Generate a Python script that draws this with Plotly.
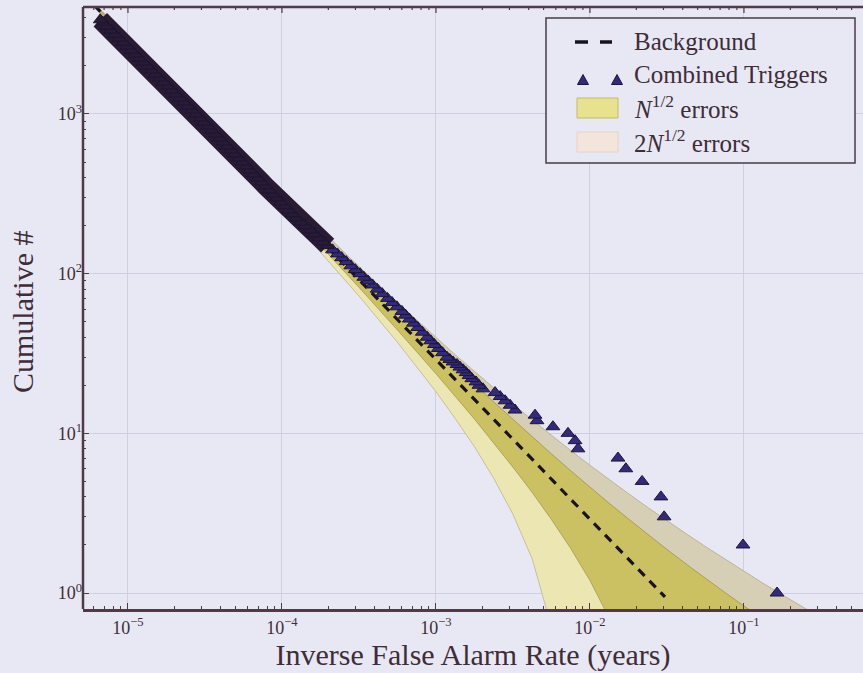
import plotly.graph_objects as go

# ---------------- data ----------------
# Combined triggers: individually resolved points (cumulative count, IFAR in years)
trig_count_low = list(range(1, 30))
trig_ifar_low = [0.164, 0.0986, 0.0303, 0.0289, 0.0218, 0.0171, 0.0152, 0.00836, 0.0080,
                 0.0072, 0.00575, 0.00453, 0.00440, 0.00326, 0.00303, 0.00281, 0.00261,
                 0.00242, 0.00202, 0.00190, 0.00182, 0.00171, 0.00164, 0.00157, 0.00150,
                 0.00143, 0.00137, 0.00129, 0.00123]

# Combined triggers: dense part of the curve (sampled along the thick band)
trig_count_high = [30, 32, 34, 36, 38, 40, 43, 46, 49, 52, 55, 58, 62, 66, 70, 75, 80, 85, 90, 95,
                   100, 106, 112, 119, 126, 133, 141, 150, 158, 168, 178, 188, 200, 211, 224,
                   237, 251, 266, 282, 299, 316, 335, 355, 376, 398, 422, 447, 473, 501, 531,
                   562, 596, 631, 668, 708, 750, 794, 841, 891, 944, 1000, 1059, 1122, 1189,
                   1259, 1334, 1413, 1496, 1585, 1679, 1778, 1884, 1995, 2113, 2239, 2371,
                   2512, 2661, 2818, 2985, 3162, 3350, 3548, 3758, 3890]
trig_ifar_high = [1.178e-3, 1.102e-3, 1.036e-3, 9.77e-4, 9.25e-4, 8.77e-4, 8.15e-4, 7.61e-4,
                  7.14e-4, 6.71e-4, 6.34e-4, 6.01e-4, 5.57e-4, 5.18e-4, 4.84e-4, 4.47e-4,
                  4.15e-4, 3.87e-4, 3.62e-4, 3.40e-4, 3.21e-4, 2.99e-4, 2.80e-4, 2.61e-4,
                  2.44e-4, 2.29e-4, 2.13e-4, 1.98e-4, 1.86e-4, 1.73e-4, 1.62e-4, 1.52e-4,
                  1.41e-4, 1.32e-4, 1.233e-4, 1.166e-4, 1.101e-4, 1.039e-4, 9.80e-5, 9.24e-5,
                  8.75e-5, 8.25e-5, 7.79e-5, 7.36e-5, 6.95e-5, 6.56e-5, 6.19e-5, 5.85e-5,
                  5.53e-5, 5.22e-5, 4.93e-5, 4.65e-5, 4.39e-5, 4.15e-5, 3.91e-5, 3.69e-5,
                  3.49e-5, 3.30e-5, 3.11e-5, 2.94e-5, 2.76e-5, 2.60e-5, 2.45e-5, 2.30e-5,
                  2.17e-5, 2.04e-5, 1.92e-5, 1.81e-5, 1.70e-5, 1.60e-5, 1.51e-5, 1.42e-5,
                  1.34e-5, 1.26e-5, 1.18e-5, 1.11e-5, 1.047e-5, 9.86e-6, 9.28e-6, 8.73e-6,
                  8.21e-6, 7.73e-6, 7.27e-6, 6.85e-6, 6.61e-6]

# Background expectation (straight line in log-log)
bg_ifar = [6.03e-6, 0.0307]
bg_count = [4810, 0.945]

# Error bands
band_ifar = [5.01e-6, 1.0e-5, 3.16e-5, 1.0e-4, 3.16e-4, 5.62e-4, 1.0e-3, 1.33e-3, 1.78e-3,
             2.37e-3, 3.16e-3, 4.22e-3, 5.62e-3, 7.50e-3, 1.0e-2, 1.33e-2, 1.78e-2, 2.37e-2,
             3.16e-2, 4.22e-2, 5.62e-2, 7.50e-2, 0.1, 0.133, 0.178, 0.237, 0.316, 0.422, 0.59]
upper_1sig = [5862, 2954, 947.4, 307.0, 101.3, 58.75, 34.39, 26.41, 20.35, 15.73, 12.20, 9.499,
              7.428, 5.833, 4.603, 3.650, 2.908, 2.329, 1.875, 1.517, 1.234, 1.009, 0.8285,
              0.6839, 0.5670, 0.4720, 0.3945, 0.3310, 0.2700]
upper_2sig = [5938, 3008, 977.7, 324.1, 110.9, 65.93, 39.77, 31.08, 24.39, 19.22, 15.23, 12.12,
              9.699, 7.799, 6.306, 5.125, 4.185, 3.435, 2.833, 2.346, 1.952, 1.631, 1.367,
              1.150, 0.9709, 0.8217, 0.6973, 0.5932, 0.4930]
lower_1sig_ifar = [5.01e-6, 1.0e-5, 3.16e-5, 1.0e-4, 3.16e-4, 5.62e-4, 1.0e-3, 1.33e-3, 1.78e-3,
                   2.37e-3, 3.16e-3, 4.22e-3, 5.62e-3, 7.50e-3, 1.0e-2, 1.33e-2, 1.78e-2,
                   2.37e-2, 2.754e-2]
lower_1sig = [5710, 2846, 886.8, 273.0, 82.13, 44.39, 23.62, 17.09, 12.27, 8.733, 6.143, 4.255,
              2.886, 1.901, 1.197, 0.700, 0.354, 0.117, 0.027]
lower_2sig_ifar = [5.01e-6, 1.0e-5, 3.16e-5, 1.0e-4, 3.16e-4, 5.62e-4, 1.0e-3, 1.33e-3, 1.78e-3,
                   2.37e-3, 3.16e-3, 4.22e-3, 5.62e-3, 6.31e-3, 6.918e-3]
lower_2sig = [5634, 2792, 856.5, 255.9, 72.56, 37.21, 18.23, 12.42, 8.232, 5.236, 3.115, 1.633,
              0.615, 0.308, 0.097]

x_tick_vals = [1e-5, 1e-4, 1e-3, 1e-2, 1e-1]
x_tick_text = ["10<sup>\u22125</sup>", "10<sup>\u22124</sup>", "10<sup>\u22123</sup>",
               "10<sup>\u22122</sup>", "10<sup>\u22121</sup>"]
y_tick_vals = [1, 10, 100, 1000]
y_tick_text = ["10<sup>0</sup>", "10<sup>1</sup>", "10<sup>2</sup>", "10<sup>3</sup>"]

legend_labels = ["Background", "Combined Triggers", "<i>N</i><sup>1/2</sup> errors",
                 "2<i>N</i><sup>1/2</sup> errors"]

# ---------------- styling ----------------
W, H = 863, 673
ML, MR, MT, MB = 83, 0, 7, 64
PW, PH = W - ML - MR, H - MT - MB

BG = "rgb(232,232,245)"
AX = "rgb(80,58,72)"
TXT = "rgb(62,45,55)"
GRID = "rgb(207,207,226)"
FONT = "Liberation Serif"
DENSE_FROM = 150          # counts above this form a solid dark band
TRI_COLOR = "rgb(50,42,125)"
TRI_EDGE = "rgb(30,20,55)"
INNER_SWATCH = "rgb(232,226,142)"
OUTER_SWATCH = "rgb(243,229,220)"


def px(xp):   # pixel -> paper x
    return (xp - ML) / PW


def py(yp):   # pixel -> paper y
    return (H - MB - yp) / PH


fig = go.Figure()

# outer (2 sigma) band - whole region
fig.add_trace(go.Scatter(
    x=band_ifar + lower_2sig_ifar[::-1], y=upper_2sig + lower_2sig[::-1],
    fill="toself", fillcolor="rgb(236,231,178)", mode="lines",
    line=dict(color="rgba(170,160,100,0.7)", width=0.8), showlegend=False, hoverinfo="skip"))
# upper part of outer band (greyish texture in reference)
fig.add_trace(go.Scatter(
    x=band_ifar + band_ifar[::-1], y=upper_2sig + upper_1sig[::-1],
    fill="toself", fillcolor="rgb(214,207,182)", mode="lines",
    line=dict(color="rgba(160,150,120,0.6)", width=0.6), showlegend=False, hoverinfo="skip"))
# inner (1 sigma) band
fig.add_trace(go.Scatter(
    x=band_ifar + lower_1sig_ifar[::-1], y=upper_1sig + lower_1sig[::-1],
    fill="toself", fillcolor="rgb(203,193,98)", mode="lines",
    line=dict(color="rgba(150,140,70,0.8)", width=0.8), showlegend=False, hoverinfo="skip"))

# background
fig.add_trace(go.Scatter(
    x=bg_ifar, y=bg_count, mode="lines", name="Background", showlegend=False,
    line=dict(color="rgb(25,20,28)", width=3.2, dash="9px,7px")))

# dense part of the triggers: overlapping markers form a solid band
dense_x = [x for x, n in zip(trig_ifar_high, trig_count_high) if n >= DENSE_FROM]
dense_y = [n for n in trig_count_high if n >= DENSE_FROM]
fig.add_trace(go.Scatter(
    x=dense_x, y=dense_y, mode="lines", showlegend=False, hoverinfo="skip",
    line=dict(color="rgb(40,27,50)", width=19)))

all_x = trig_ifar_low + trig_ifar_high
all_y = trig_count_low + trig_count_high
marker_colors = ["rgb(40,27,52)" if n >= DENSE_FROM else TRI_COLOR for n in all_y]

fig.add_trace(go.Scatter(
    x=all_x, y=all_y, mode="markers", name="Combined Triggers", showlegend=False,
    marker=dict(symbol="triangle-up", size=12, color=marker_colors,
                line=dict(color=TRI_EDGE, width=1))))

minor_x = [m * 10 ** e for e in range(-6, 0) for m in range(2, 10)]
minor_y = [m * 10 ** e for e in range(0, 4) for m in range(2, 10)]

# ---------------- frame lines and hand-made legend (matplotlib look) ----------------
shapes = []
annotations = []
# left spine, top spine
shapes.append(dict(type="line", xref="paper", yref="paper", x0=0, x1=0, y0=0, y1=1,
                   line=dict(color=AX, width=2.5), layer="above"))
shapes.append(dict(type="line", xref="paper", yref="paper", x0=0, x1=1, y0=1, y1=1,
                   line=dict(color=AX, width=2.5), layer="above"))
# top minor/major tick marks (matplotlib draws ticks on all spines)
for v in x_tick_vals + minor_x:
    shapes.append(dict(type="line", xref="x", yref="paper", x0=v, x1=v,
                       y0=1, y1=1 - (6 if v in x_tick_vals else 3) / PH,
                       line=dict(color=AX, width=1.2), layer="above"))
# legend box
shapes.append(dict(type="rect", xref="paper", yref="paper",
                   x0=px(546), x1=px(855), y0=py(163), y1=py(18),
                   fillcolor=BG, line=dict(color="rgb(70,60,70)", width=1.5), layer="above"))
row_y = [42, 76, 108, 142]
# dashed line symbol
for xa, xb in [(575, 588), (600, 612)]:
    shapes.append(dict(type="line", xref="paper", yref="paper",
                       x0=px(xa), x1=px(xb), y0=py(row_y[0]), y1=py(row_y[0]),
                       line=dict(color="rgb(25,20,28)", width=3.5), layer="above"))
# two triangles
for cx in (583, 617):
    cy = row_y[1] + 4
    path = "M {:.5f} {:.5f} L {:.5f} {:.5f} L {:.5f} {:.5f} Z".format(
        px(cx - 5.5), py(cy + 4.5), px(cx + 5.5), py(cy + 4.5), px(cx), py(cy - 5.5))
    shapes.append(dict(type="path", xref="paper", yref="paper", path=path,
                       fillcolor=TRI_COLOR, line=dict(color=TRI_EDGE, width=1), layer="above"))
# swatches
for ry, col, edge in [(row_y[2], INNER_SWATCH, "rgb(195,185,105)"),
                      (row_y[3], OUTER_SWATCH, "rgb(228,212,200)")]:
    shapes.append(dict(type="rect", xref="paper", yref="paper",
                       x0=px(577), x1=px(618), y0=py(ry + 10), y1=py(ry - 10),
                       fillcolor=col, line=dict(color=edge, width=1), layer="above"))
for ry, lab in zip(row_y, legend_labels):
    annotations.append(dict(x=px(632), y=py(ry - 1), xref="paper", yref="paper",
                            text=lab, showarrow=False, xanchor="left", yanchor="middle",
                            font=dict(family=FONT, size=25, color=TXT)))

# y-axis title placed like the reference
annotations.append(dict(x=px(22), y=py(312), xref="paper", yref="paper",
                        text="Cumulative #", textangle=-90, showarrow=False,
                        xanchor="center", yanchor="middle",
                        font=dict(family=FONT, size=30, color=TXT)))

fig.update_layout(
    width=W, height=H,
    margin=dict(l=ML, r=MR, t=MT, b=MB),
    paper_bgcolor=BG, plot_bgcolor=BG,
    font=dict(family=FONT, color=TXT, size=18),
    showlegend=False,
    xaxis=dict(type="log", range=[-5.292, -0.227], showgrid=True, gridcolor=GRID, gridwidth=1,
               tickmode="array", tickvals=x_tick_vals, ticktext=x_tick_text,
               ticks="inside", ticklen=6, tickcolor=AX, tickwidth=1.2,
               showline=True, linecolor=AX, linewidth=3, mirror=False,
               tickfont=dict(family=FONT, size=18, color=TXT),
               minor=dict(tickmode="array", tickvals=minor_x, ticks="inside", ticklen=3,
                          tickcolor=AX, showgrid=False),
               title=dict(text="Inverse False Alarm Rate (years)",
                          font=dict(family=FONT, size=30, color=TXT), standoff=6),
               zeroline=False),
    yaxis=dict(type="log", range=[-0.1, 3.67], showgrid=True, gridcolor=GRID, gridwidth=1,
               tickmode="array", tickvals=y_tick_vals, ticktext=y_tick_text,
               ticks="inside", ticklen=6, tickcolor=AX, tickwidth=1.2,
               showline=False, mirror=False,
               tickfont=dict(family=FONT, size=18, color=TXT),
               minor=dict(tickmode="array", tickvals=minor_y, ticks="inside", ticklen=3,
                          tickcolor=AX, showgrid=False),
               zeroline=False),
    shapes=shapes,
    annotations=annotations,
)

fig.write_html("out.html")
